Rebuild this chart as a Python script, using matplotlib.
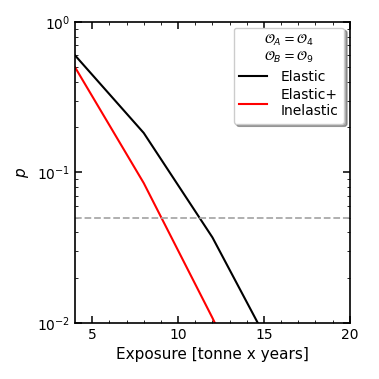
import matplotlib
matplotlib.use("Agg")
import matplotlib.pyplot as plt

# exposure points (tonne x years) and p-values
exp_el = [4, 8, 12, 16]
p_el = [0.60, 0.183, 0.037, 0.0051]
exp_inel = [4, 8, 12, 16]
p_inel = [0.50, 0.085, 0.0108, 0.0012]
p_thr = 0.05

fig = plt.figure(figsize=(3.79, 3.79), dpi=100)
ax = fig.add_axes([0.198, 0.148, 0.725, 0.794])

ax.plot(exp_el, p_el, color='k', lw=1.5, label='Elastic')
ax.plot(exp_inel, p_inel, color='r', lw=1.5, label='Elastic+\nInelastic')
ax.axhline(p_thr, color='darkgray', ls='--', lw=1.3)

ax.set_yscale('log')
ax.set_xlim(4, 20)
ax.set_ylim(1e-2, 1)
ax.set_xticks([5, 10, 15, 20])
ax.set_xticks([6, 7, 8, 9, 11, 12, 13, 14, 16, 17, 18, 19], minor=True)
ax.tick_params(which='both', direction='in', top=True, right=True, labelsize=10)
ax.tick_params(which='major', length=5, width=1.1)
ax.tick_params(which='minor', length=2.5)
for s in ax.spines.values():
    s.set_linewidth(1.2)
ax.set_xlabel('Exposure [tonne x years]', fontsize=11)
ax.set_ylabel('$p$', fontsize=11)

ax.legend(title='$\\mathcal{O}_A = \\mathcal{O}_4$\n$\\mathcal{O}_B = \\mathcal{O}_9$',
          loc='upper right', fontsize=10, title_fontsize=9.5, shadow=True,
          fancybox=True, framealpha=1, labelspacing=0.3, handletextpad=1.0,
          borderaxespad=0.4, handlelength=2.0)

fig.savefig('out.png', dpi=100)
